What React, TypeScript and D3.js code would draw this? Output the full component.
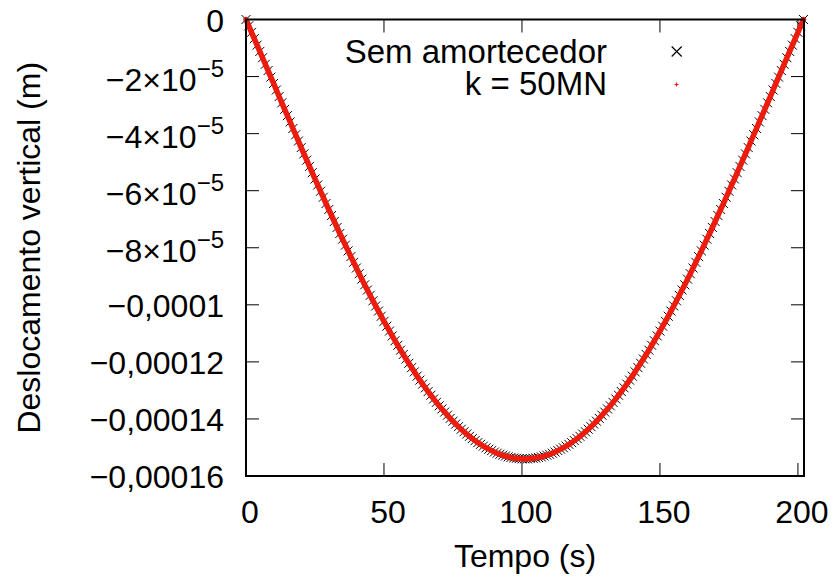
import React from 'react';
import * as d3 from 'd3';

// Time step between samples (s)
const timeStep = 1;

// Vertical displacement, in units of 1e-5 m, sampled every second (t = 0..202 s)
const semAmortecedor = [
  0, -0.22, -0.45, -0.67, -0.90, -1.12, -1.34, -1.57, -1.79, -2.02,
  -2.24, -2.47, -2.70, -2.92, -3.15, -3.37, -3.59, -3.82, -4.04, -4.26,
  -4.49, -4.71, -4.93, -5.15, -5.37, -5.59, -5.80, -6.02, -6.23, -6.45,
  -6.66, -6.87, -7.08, -7.29, -7.50, -7.70, -7.91, -8.11, -8.31, -8.51,
  -8.71, -8.91, -9.10, -9.30, -9.48, -9.67, -9.86, -10.04, -10.22, -10.40,
  -10.58, -10.75, -10.92, -11.09, -11.26, -11.42, -11.59, -11.74, -11.90, -12.05,
  -12.20, -12.35, -12.50, -12.64, -12.78, -12.91, -13.04, -13.17, -13.30, -13.42,
  -13.54, -13.65, -13.76, -13.87, -13.98, -14.08, -14.18, -14.27, -14.36, -14.45,
  -14.53, -14.61, -14.69, -14.76, -14.83, -14.89, -14.95, -15.01, -15.06, -15.11,
  -15.16, -15.20, -15.24, -15.27, -15.30, -15.33, -15.35, -15.37, -15.38, -15.39,
  -15.40, -15.40,
  -15.40, -15.39, -15.38, -15.37, -15.35, -15.33, -15.30, -15.27, -15.24, -15.20,
  -15.16, -15.11, -15.06, -15.01, -14.95, -14.89, -14.83, -14.76, -14.69, -14.61,
  -14.53, -14.45, -14.36, -14.27, -14.18, -14.08, -13.98, -13.87, -13.76, -13.65,
  -13.54, -13.42, -13.30, -13.17, -13.04, -12.91, -12.78, -12.64, -12.50, -12.35,
  -12.20, -12.05, -11.90, -11.74, -11.59, -11.42, -11.26, -11.09, -10.92, -10.75,
  -10.58, -10.40, -10.22, -10.04, -9.86, -9.67, -9.48, -9.30, -9.10, -8.91,
  -8.71, -8.51, -8.31, -8.11, -7.91, -7.70, -7.50, -7.29, -7.08, -6.87,
  -6.66, -6.45, -6.23, -6.02, -5.80, -5.59, -5.37, -5.15, -4.93, -4.71,
  -4.49, -4.26, -4.04, -3.82, -3.59, -3.37, -3.15, -2.92, -2.70, -2.47,
  -2.24, -2.02, -1.79, -1.57, -1.34, -1.12, -0.90, -0.67, -0.45, -0.22,
  0,
];

const k50MN = [
  0, -0.22, -0.45, -0.67, -0.90, -1.12, -1.34, -1.57, -1.79, -2.02,
  -2.24, -2.47, -2.70, -2.92, -3.15, -3.37, -3.59, -3.82, -4.04, -4.26,
  -4.49, -4.71, -4.93, -5.15, -5.37, -5.59, -5.80, -6.02, -6.23, -6.45,
  -6.66, -6.87, -7.08, -7.29, -7.50, -7.70, -7.91, -8.11, -8.31, -8.51,
  -8.71, -8.91, -9.10, -9.30, -9.48, -9.67, -9.86, -10.04, -10.22, -10.40,
  -10.58, -10.75, -10.92, -11.09, -11.26, -11.42, -11.59, -11.74, -11.90, -12.05,
  -12.20, -12.35, -12.50, -12.64, -12.78, -12.91, -13.04, -13.17, -13.30, -13.42,
  -13.54, -13.65, -13.76, -13.87, -13.98, -14.08, -14.18, -14.27, -14.36, -14.45,
  -14.53, -14.61, -14.69, -14.76, -14.83, -14.89, -14.95, -15.01, -15.06, -15.11,
  -15.16, -15.20, -15.24, -15.27, -15.30, -15.33, -15.35, -15.37, -15.38, -15.39,
  -15.40, -15.40,
  -15.40, -15.39, -15.38, -15.37, -15.35, -15.33, -15.30, -15.27, -15.24, -15.20,
  -15.16, -15.11, -15.06, -15.01, -14.95, -14.89, -14.83, -14.76, -14.69, -14.61,
  -14.53, -14.45, -14.36, -14.27, -14.18, -14.08, -13.98, -13.87, -13.76, -13.65,
  -13.54, -13.42, -13.30, -13.17, -13.04, -12.91, -12.78, -12.64, -12.50, -12.35,
  -12.20, -12.05, -11.90, -11.74, -11.59, -11.42, -11.26, -11.09, -10.92, -10.75,
  -10.58, -10.40, -10.22, -10.04, -9.86, -9.67, -9.48, -9.30, -9.10, -8.91,
  -8.71, -8.51, -8.31, -8.11, -7.91, -7.70, -7.50, -7.29, -7.08, -6.87,
  -6.66, -6.45, -6.23, -6.02, -5.80, -5.59, -5.37, -5.15, -4.93, -4.71,
  -4.49, -4.26, -4.04, -3.82, -3.59, -3.37, -3.15, -2.92, -2.70, -2.47,
  -2.24, -2.02, -1.79, -1.57, -1.34, -1.12, -0.90, -0.67, -0.45, -0.22,
  0,
];

const xTicks = [0, 50, 100, 150, 200];
const yTicks = [0, -2e-5, -4e-5, -6e-5, -8e-5, -1e-4, -1.2e-4, -1.4e-4, -1.6e-4];
const yTickBase = ['0', '−2×10', '−4×10', '−6×10', '−8×10', '−0,0001', '−0,00012', '−0,00014', '−0,00016'];
const yTickExp = ['', '−5', '−5', '−5', '−5', '', '', '', ''];
const seriesNames = ['Sem amortecedor', 'k = 50MN'];

const W = 834;
const H = 582;
const left = 246, right = 804, top = 19.5, bottom = 476;
const FONT = '"Liberation Sans", Arial, Helvetica, sans-serif';
const RED = '#ec1c0e';

export default function App() {
  const x = d3.scaleLinear().domain([0, 202.2]).range([left, right]);
  const y = d3.scaleLinear().domain([-1.6e-4, 0]).range([bottom, top]);

  const ptsBlack = semAmortecedor.map((v, i) => [x(i * timeStep), y(v * 1e-5)] as [number, number]);
  const ptsRed = k50MN.map((v, i) => [x(i * timeStep), y(v * 1e-5)] as [number, number]);
  const line = d3.line<[number, number]>().x(d => d[0]).y(d => d[1]);

  const cross = (cx: number, cy: number, s: number) =>
    `M${cx - s},${cy - s}L${cx + s},${cy + s}M${cx - s},${cy + s}L${cx + s},${cy - s}`;
  const plus = (cx: number, cy: number, s: number) =>
    `M${cx - s},${cy}L${cx + s},${cy}M${cx},${cy - s}L${cx},${cy + s}`;

  const tickLen = 13;

  return (
    <svg width={W} height={H} style={{ position: 'absolute', left: 0, top: 0, background: '#fff' }} fontFamily={FONT}>
      <rect x={0} y={0} width={W} height={H} fill="#fff" />
      {/* ticks */}
      {xTicks.map(t => (
        <g key={'xt' + t} stroke="#000" strokeWidth={1}>
          <line x1={x(t)} x2={x(t)} y1={bottom} y2={bottom - tickLen} />
          <line x1={x(t)} x2={x(t)} y1={top} y2={top + tickLen} />
        </g>
      ))}
      {yTicks.map(t => (
        <g key={'yt' + t} stroke="#000" strokeWidth={1}>
          <line x1={left} x2={left + tickLen} y1={y(t)} y2={y(t)} />
          <line x1={right} x2={right - tickLen} y1={y(t)} y2={y(t)} />
        </g>
      ))}
      {/* tick labels */}
      {xTicks.map(t => (
        <text key={'xl' + t} x={x(t) + 4} y={523} fontSize={32} textAnchor="middle" fill="#000">{t}</text>
      ))}
      {yTicks.map((t, i) => (
        <text key={'yl' + t} x={224} y={y(t) + (yTickExp[i] ? 14.5 : 12)} fontSize={32} textAnchor="end" fill="#000">
          {yTickBase[i]}
          {yTickExp[i] ? <tspan fontSize={24} dy={-14}>{yTickExp[i]}</tspan> : null}
        </text>
      ))}
      {/* axis titles */}
      <text x={(left + right) / 2} y={567} fontSize={32} textAnchor="middle" fill="#000">Tempo (s)</text>
      <text transform={`translate(40,${(top + bottom) / 2}) rotate(-90)`} fontSize={32} textAnchor="middle" fill="#000">
        Deslocamento vertical (m)
      </text>
      {/* series: black x markers */}
      <path d={ptsBlack.map(p => cross(p[0], p[1], 4.5)).join('')} stroke="#000" strokeWidth={1} fill="none" />
      {/* series: red dense plus markers forming a band */}
      <path d={line(ptsRed) || ''} stroke={RED} strokeWidth={5.5} fill="none" strokeLinejoin="round" strokeLinecap="round" />
      <path d={ptsRed.map(p => plus(p[0], p[1], 2)).join('')} stroke={RED} strokeWidth={1.2} fill="none" />
      {/* legend */}
      <text x={607} y={63} fontSize={33} textAnchor="end" fill="#000">{seriesNames[0]}</text>
      <path d={cross(676.7, 51.5, 5)} stroke="#000" strokeWidth={1.2} fill="none" />
      <text x={607} y={95} fontSize={33} textAnchor="end" fill="#000">{seriesNames[1]}</text>
      <path d={plus(676.5, 84.5, 2)} stroke={RED} strokeWidth={1.2} fill="none" />
      {/* frame */}
      <rect x={left} y={top} width={right - left} height={bottom - top} fill="none" stroke="#000" strokeWidth={2} />
    </svg>
  );
}
